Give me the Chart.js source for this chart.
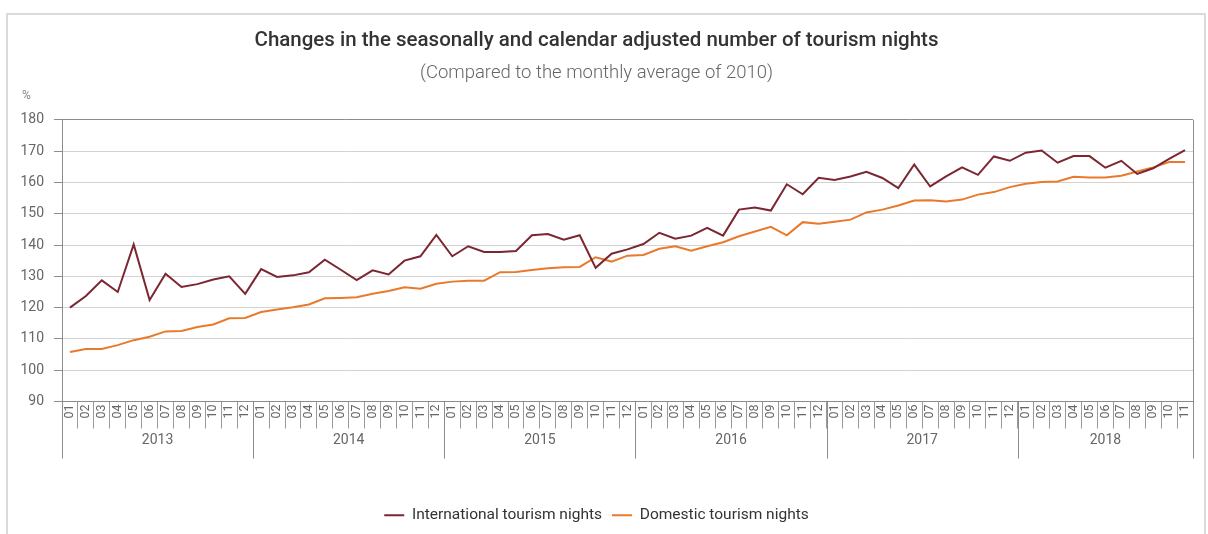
<!DOCTYPE html>
<html>
<head>
<meta charset="utf-8">
<script src="https://cdn.jsdelivr.net/npm/chart.js@4"></script>
<style>
  body { margin: 0; background: #fff; }
  #frame { position: absolute; left: 6px; top: 13px; width: 1196px; height: 540px; border: 2px solid #dadada; }
  #wrap { position: absolute; left: 0; top: 0; width: 1208px; height: 534px; }
</style>
</head>
<body>
<div id="frame"></div>
<div id="wrap"><canvas id="myChart" width="1208" height="534"></canvas></div>
<script>
// categories
const years = ['2013', '2014', '2015', '2016', '2017', '2018'];
const monthCodes = ['01', '02', '03', '04', '05', '06', '07', '08', '09', '10', '11', '12'];

// series values (index, 2010 monthly average = 100)
const international = [
    120, 123.7, 128.7, 125, 140.2, 122.4, 130.8, 126.6, 127.5, 129, 130, 124.4,
    132.3, 129.8, 130.3, 131.3, 135.3, 132.1, 128.8, 131.9, 130.6, 135, 136.4, 143.2,
    136.4, 139.6, 137.8, 137.8, 138.1, 143.1, 143.5, 141.7, 143.1, 132.7, 137.2, 138.6,
    140.3, 143.9, 142.0, 143.0, 145.5, 143.0, 151.3, 152.0, 151.0, 159.4, 156.2, 161.5,
    160.8, 161.9, 163.4, 161.4, 158.2, 165.7, 158.7, 161.9, 164.8, 162.4, 168.3, 166.9,
    169.5, 170.2, 166.3, 168.4, 168.4, 164.7, 166.9, 162.7, 164.5, 167.5, 170.3
];
const domestic = [
    105.8, 106.8, 106.8, 108, 109.6, 110.7, 112.4, 112.5, 113.8, 114.6, 116.6, 116.7,
    118.6, 119.4, 120.1, 121, 123, 123.1, 123.3, 124.4, 125.3, 126.5, 126, 127.6,
    128.3, 128.6, 128.6, 131.3, 131.4, 132, 132.6, 132.9, 133, 136.1, 134.7, 136.6,
    136.8, 138.8, 139.6, 138.2, 139.6, 140.9, 142.8, 144.3, 145.8, 143.1, 147.3, 146.8,
    147.4, 148.1, 150.4, 151.3, 152.6, 154.2, 154.3, 153.9, 154.5, 156.1, 156.9, 158.5,
    159.6, 160.1, 160.3, 161.8, 161.6, 161.6, 162.1, 163.5, 164.8, 166.5, 166.5
];

// y axis ticks
const yMin = 90, yMax = 180, yStep = 10;

// month labels for every point (year is drawn separately below)
let labels = [];
years.forEach(y => {
    monthCodes.forEach(m => labels.push(m));
});
labels = labels.slice(0, international.length);

//Draws year separators, year names, right border and the % sign
const yearAxis = {
    id: 'yearAxis',
    afterDraw(chart) {
        const { ctx, chartArea, scales } = chart;
        const x = scales.x;
        const step = x.getPixelForValue(1) - x.getPixelForValue(0);
        const lineBottom = chartArea.bottom + 57;
        ctx.save();
        ctx.strokeStyle = '#8c8c8c';
        ctx.lineWidth = 1;
        ctx.beginPath();
        ctx.moveTo(chartArea.right + 0.5, chartArea.top);
        ctx.lineTo(chartArea.right + 0.5, lineBottom);
        ctx.stroke();

        ctx.font = '14px Roboto';
        ctx.fillStyle = '#666';
        ctx.textAlign = 'center';
        ctx.textBaseline = 'middle';
        years.forEach((yr, i) => {
            const start = i * 12;
            const end = Math.min(start + 12, labels.length);
            const x0 = x.getPixelForValue(start) - step / 2;
            const x1 = x.getPixelForValue(end - 1) + step / 2;
            ctx.beginPath();
            ctx.moveTo(Math.round(x0) + 0.5, chartArea.bottom);
            ctx.lineTo(Math.round(x0) + 0.5, lineBottom);
            ctx.stroke();
            ctx.fillText(yr, (x0 + x1) / 2, chartArea.bottom + 39);
        });

        ctx.font = '12px Roboto';
        ctx.fillStyle = '#888';
        ctx.textAlign = 'left';
        ctx.fillText('%', chartArea.left - 40, chartArea.top - 24);
        ctx.restore();
    }
};

const ctx = document.getElementById('myChart').getContext('2d');
const myChart = new Chart(ctx, {
    type: 'line',
    data: {
        labels: labels,
        datasets: [{
            label: 'International tourism nights',
            data: international,
            borderColor: '#7b2631',
            backgroundColor: '#7b2631',
            borderWidth: 2,
            pointRadius: 0,
            tension: 0
        }, {
            label: 'Domestic tourism nights',
            data: domestic,
            borderColor: '#e9792b',
            backgroundColor: '#e9792b',
            borderWidth: 2,
            pointRadius: 0,
            tension: 0
        }]
    },
    options: {
        responsive: false,
        animation: false,
        layout: { padding: { left: 0, right: 15, top: 0, bottom: 1 } },
        plugins: {
            title: {
                display: true,
                text: 'Changes in the seasonally and calendar adjusted number of tourism nights',
                color: '#333',
                font: { family: 'Roboto', size: 20.5, weight: '500' },
                padding: { top: 29, bottom: 8 }
            },
            subtitle: {
                display: true,
                text: '(Compared to the monthly average of 2010)',
                color: '#666',
                font: { family: 'Roboto', size: 18.5, weight: '300' },
                padding: { top: 1, bottom: 35 }
            },
            legend: {
                position: 'bottom',
                labels: {
                    usePointStyle: true,
                    pointStyle: 'line',
                    pointStyleWidth: 20,
                    color: '#333',
                    font: { family: 'Roboto', size: 15.5 },
                    padding: 10
                }
            },
            tooltip: { enabled: false }
        },
        scales: {
            x: {
                offset: true,
                afterFit: s => { s.height = 96; },
                grid: {
                    offset: true,
                    drawOnChartArea: false,
                    drawTicks: true,
                    tickLength: 27,
                    color: '#9a9a9a'
                },
                border: { display: true, color: '#8c8c8c' },
                ticks: {
                    autoSkip: false,
                    minRotation: 90,
                    maxRotation: 90,
                    padding: -24,
                    color: '#666',
                    font: { family: 'Roboto', size: 12.5 }
                }
            },
            y: {
                min: yMin,
                max: yMax,
                afterFit: s => { s.width = 62; },
                grid: {
                    color: c => c.tick && c.tick.value === yMax ? '#8c8c8c' : '#d2d2d2',
                    tickLength: 8,
                    tickColor: '#8c8c8c'
                },
                border: { display: true, color: '#8c8c8c' },
                ticks: {
                    stepSize: yStep,
                    padding: 10,
                    color: '#666',
                    font: { family: 'Roboto', size: 14 }
                }
            }
        }
    },
    plugins: [yearAxis]
});
</script>
</body>
</html>
